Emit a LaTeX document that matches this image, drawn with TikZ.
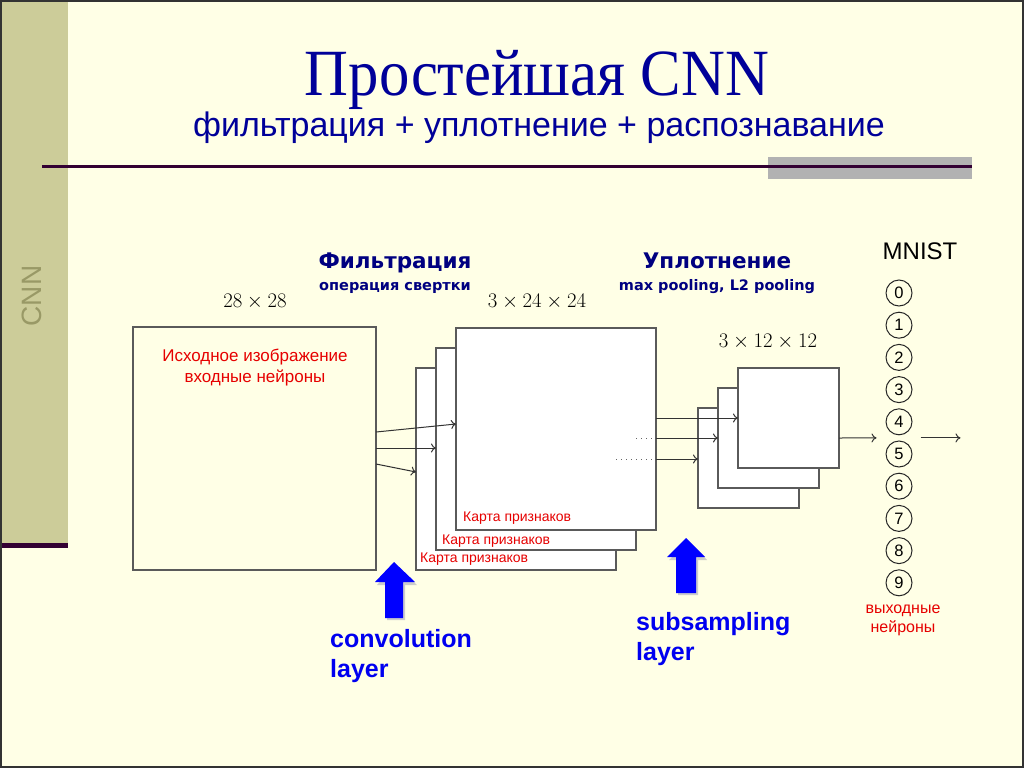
\documentclass[tikz,border=0pt]{standalone}
\usepackage{graphicx}
\usepackage{fontspec}
\setmainfont{Liberation Serif}
\setsansfont{Liberation Sans}
\newfontfamily\hdfont{DejaVu Sans}
\usetikzlibrary{positioning,calc,arrows.meta}
\definecolor{cream}{RGB}{255,255,230}
\definecolor{khaki}{RGB}{204,204,153}
\definecolor{olivetxt}{RGB}{153,153,102}
\definecolor{plum}{RGB}{51,0,51}
\definecolor{ttlblue}{RGB}{0,0,153}
\definecolor{hdblue}{RGB}{0,0,128}
\definecolor{layblue}{RGB}{0,0,240}
\definecolor{mapred}{RGB}{230,0,0}
\definecolor{frm}{RGB}{90,90,90}
\newcommand{\fs}[1]{\fontsize{#1}{#1}\selectfont}
\newcommand{\kartalbl}{Карта признаков}

\begin{document}
\begin{tikzpicture}[x=1pt,y=-1pt,>={To[length=5pt,width=9pt]},
  box/.style={draw=frm,line width=1.3pt,fill=white,inner sep=0,outer sep=0,anchor=north west},
  fmap/.style={box,minimum width=200pt,minimum height=202pt},
  pmap/.style={box,minimum width=101pt,minimum height=100pt},
  redlbl/.style={font=\sffamily\fs{14},text=mapred,anchor=base west,inner sep=0},
  dimlbl/.style={font=\fs{21.5},text=black},
  digit/.style={circle,draw=black!85,line width=1pt,minimum size=26pt,inner sep=0,font=\sffamily\fs{16.5}},
  conn/.style={->,line width=1pt,draw=black!80},
  dots/.style={draw=black!60,line width=0.8pt,dash pattern=on 1pt off 4pt},
  hd/.style={font=\hdfont\bfseries\fs{21.5},text=hdblue,anchor=base},
  subhd/.style={font=\hdfont\bfseries\fs{14.5},text=hdblue,anchor=base},
  laytxt/.style={font=\sffamily\bfseries\fs{25},text=layblue,align=left,anchor=base west,inner sep=0}]
% slide
\useasboundingbox (0,0) rectangle (1024,768);
\fill[cream] (0,0) rectangle (1024,768);
\fill[khaki] (0,0) rectangle (68,545);
\fill[plum] (0,543) rectangle (68,548);
\node[rotate=90,font=\sffamily\fs{28},text=olivetxt] (side) at (32,296) {CNN};
\fill[black!30] (768,157) rectangle (972,179);
\draw[plum,line width=3pt] (42,166) -- (972,166);
\node[font=\fs{66},text=ttlblue] (ttl) at (537,80) {\scalebox{0.92}[1]{Простейшая CNN}};
\node[font=\sffamily\fs{34},text=ttlblue] (sub) at (539,128) {фильтрация + уплотнение + распознавание};
%
\node[hd]    (filt)  at (395,268) {Фильтрация};
\node[subhd] (filt2) at (395,290) {операция свертки};
\node[hd]    (pool)  at (717,268) {Уплотнение};
\node[subhd] (pool2) at (717,290) {max pooling, L2 pooling};
%
\node[box,fill=cream,minimum width=243pt,minimum height=243pt] (in) at (133,327) {};
\node[dimlbl] at (255,302) {\(28\times 28\)};
\node[font=\sffamily\fs{17},text=mapred,align=center] at (255,368) {Исходное изображение\\[4pt]входные нейроны};
%
\node[fmap] (fmC) at (416,368) {};
\node[redlbl] at ($(fmC.south west)+(4,-8)$) {\kartalbl};
\node[fmap] (fmB) at ($(fmC.north west)+(20,-20)$) {};
\node[redlbl] at ($(fmB.south west)+(6,-6)$) {\kartalbl};
\node[fmap] (fmA) at ($(fmB.north west)+(20,-20)$) {};
\node[redlbl] at ($(fmA.south west)+(7,-9)$) {\kartalbl};
\node[dimlbl] at (537,302) {\(3\times 24\times 24\)};
%
\node[pmap] (pC) at (698,408) {};
\node[pmap] (pB) at ($(pC.north west)+(20,-20)$) {};
\node[pmap] (pA) at ($(pB.north west)+(20,-20)$) {};
\node[dimlbl] at (768,342) {\(3\times 12\times 12\)};
%
\foreach \d in {0,...,9}
  \node[digit] (c\d) at (899,{293+32.2*\d}) {\d};
\node[font=\sffamily\fs{24}] (mnist) at (920,251) {MNIST};
\node[font=\sffamily\fs{16},text=mapred,align=center] (outlbl) at (903,620) {выходные\\[3pt]нейроны};
\coordinate (outend) at ($(c4.east)!0.5!(c5.east)+(48,0)$);
%
\draw[conn] ($(in.north east)+(0,105)$) -- ($(fmA.north west)+(0,96)$);
\draw[conn] ($(in.north east)+(0,121)$) -- ($(fmB.north west)+(0,100)$);
\draw[conn] ($(in.north east)+(0,137)$) -- ($(fmC.north west)+(0,104)$);
\draw[dots] ($(fmB.north east)+(0,90)$) -- ($(fmA.north east)+(0,110)$);
\draw[dots] ($(fmC.north east)+(0,91)$) -- ($(fmA.north east)+(0,131)$);
\draw[conn] ($(fmA.north east)+(0,90)$)  -- ($(pA.north west)+(0,50)$);
\draw[conn] ($(fmA.north east)+(0,110)$) -- ($(pB.north west)+(0,50)$);
\draw[conn] ($(fmA.north east)+(0,131)$) -- ($(pC.north west)+(0,51)$);
\draw[conn,shorten >=9pt] ($(pA.north east)+(0,70)$) -- ($(c4.west)!0.5!(c5.west)$);
\draw[conn,shorten <=8pt] ($(c4.east)!0.5!(c5.east)$) -- (outend);
%
\fill[black!20] (387,620) -- (387,585) -- (377,585) -- (396,565) -- (417,585) -- (405,585) -- (405,620) -- cycle;
\fill[blue] (385,618) -- (385,582) -- (375,582) -- (394,562) -- (415,582) -- (403,582) -- (403,618) -- cycle;
\fill[black!20] (678,595) -- (678,560) -- (669,560) -- (688,541) -- (707,560) -- (698,560) -- (698,595) -- cycle;
\fill[blue] (676,593) -- (676,557) -- (667,557) -- (686,538) -- (705,557) -- (696,557) -- (696,593) -- cycle;
\node[laytxt] (conv) at (330,677) {convolution\\[5pt]layer};
\node[laytxt] (subs) at (636,660) {subsampling\\[5pt]layer};
%
\draw[black!80,line width=2pt] (1,1) rectangle (1023,767);
\end{tikzpicture}
\end{document}
